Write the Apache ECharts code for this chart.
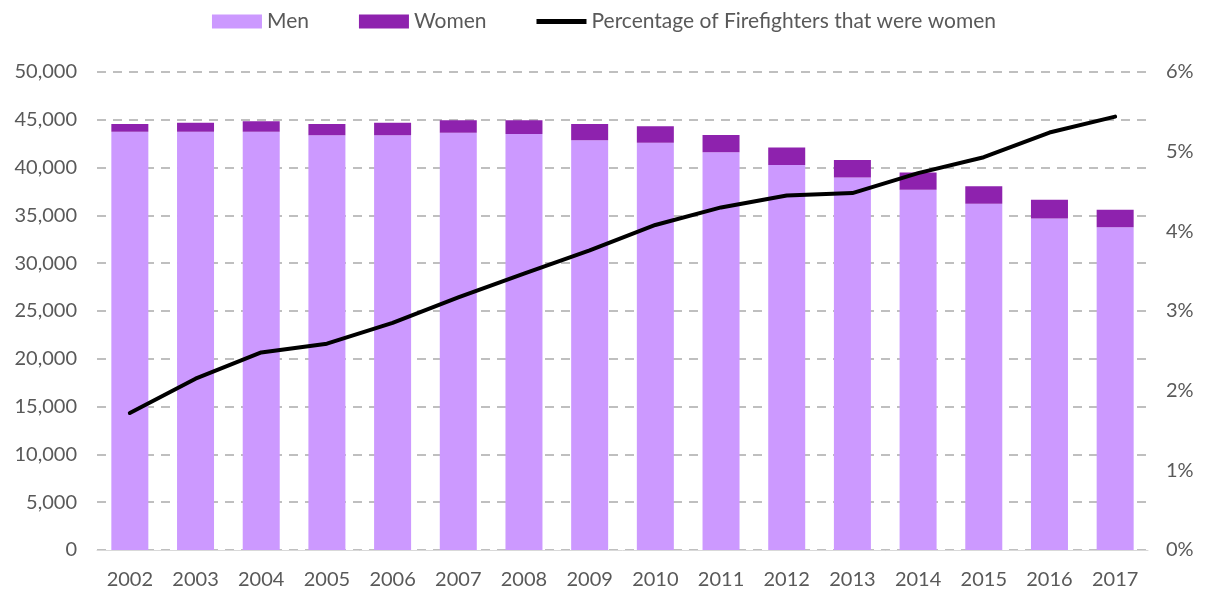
<!DOCTYPE html>
<html>
<head>
<meta charset="utf-8">
<script src="https://cdn.jsdelivr.net/npm/echarts@6/dist/echarts.min.js"></script>
<style>html,body{margin:0;padding:0;background:#fff}#c{width:1208px;height:591px}</style>
</head>
<body>
<div id="c"></div>
<script>
const years = ['2002','2003','2004','2005','2006','2007','2008','2009','2010','2011','2012','2013','2014','2015','2016','2017'];
const men = [43760,43760,43760,43380,43380,43650,43510,42870,42610,41600,40260,38960,37670,36230,34680,33770];
const women = [800,940,1080,1180,1320,1300,1440,1700,1720,1820,1830,1830,1820,1820,1970,1830];
const pctWomen = [1.72,2.15,2.48,2.59,2.85,3.17,3.47,3.76,4.08,4.30,4.45,4.48,4.73,4.93,5.24,5.44];
const leftTicks = {min:0, max:50000, interval:5000};
const rightTicks = {min:0, max:6, interval:1};

const font = 'Lato, "Open Sans", sans-serif';
const chart = echarts.init(document.getElementById('c'));
chart.setOption({
  animation:false,
  textStyle:{fontFamily:font},
  legend:{
    top:6, left:'center', itemGap:50, itemWidth:50, itemHeight:14,
    textStyle:{fontSize:21, color:'#595959', fontFamily:font},
    data:[{name:'Men', icon:'rect'},{name:'Women', icon:'rect'},
          {name:'Percentage of Firefighters that were women', icon:'path://M0,0 L50,0 L50,5 L0,5 Z'}]
  },
  grid:{left:97, right:60, top:72, bottom:41},
  xAxis:{
    type:'category', data:years,
    axisLine:{lineStyle:{color:'#D9D9D9', width:1}},
    axisTick:{show:false},
    axisLabel:{fontSize:20, color:'#595959', margin:20}
  },
  yAxis:[{
    type:'value', min:leftTicks.min, max:leftTicks.max, interval:leftTicks.interval,
    axisLine:{show:false}, axisTick:{show:false},
    axisLabel:{fontSize:20, color:'#595959', margin:20, formatter:v=>v.toLocaleString('en-US')},
    splitLine:{lineStyle:{color:'#BFBFBF', width:2, type:[9,7]}}
  },{
    type:'value', min:rightTicks.min, max:rightTicks.max, interval:rightTicks.interval,
    axisLine:{show:false}, axisTick:{show:false},
    axisLabel:{fontSize:20, color:'#595959', margin:18, formatter:v=>v+'%'},
    splitLine:{show:false}
  }],
  series:[{
    name:'Men', type:'bar', stack:'t', data:men, barWidth:37,
    itemStyle:{color:'#CC99FF'}
  },{
    name:'Women', type:'bar', stack:'t', data:women, barWidth:37,
    itemStyle:{color:'#8E22AE'}
  },{
    name:'Percentage of Firefighters that were women', type:'line', yAxisIndex:1,
    data:pctWomen, showSymbol:false, symbol:'none',
    lineStyle:{color:'#000', width:4, cap:'round', join:'round'},
    itemStyle:{color:'#000'}
  }]
});
</script>
</body>
</html>
